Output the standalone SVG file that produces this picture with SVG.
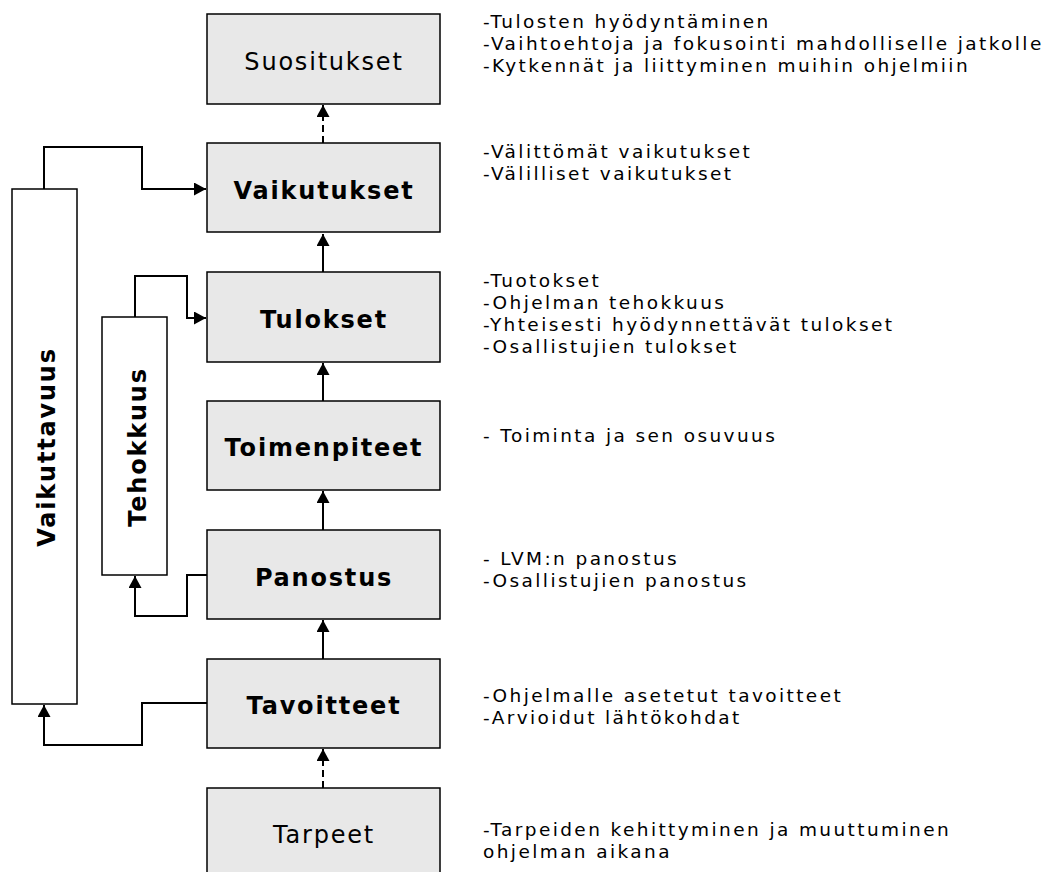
<svg xmlns="http://www.w3.org/2000/svg" width="1043" height="872" viewBox="0 0 1043 872">
<defs>
<style>
.box{fill:#e8e8e8;stroke:#000;stroke-width:1.5}
.side{fill:#fff;stroke:#000;stroke-width:1.5}
.lbl{font-family:"DejaVu Sans",Verdana,sans-serif;font-size:24px;letter-spacing:1.8px;text-anchor:middle;fill:#000}
.b{font-weight:bold}
.note{font-family:"DejaVu Sans",Verdana,sans-serif;font-size:18.5px;letter-spacing:2.4px;fill:#000}
.c{fill:none;stroke:#000;stroke-width:2}
.d{stroke-dasharray:7,4}
</style>
<marker id="ah" markerUnits="userSpaceOnUse" markerWidth="13" markerHeight="13" refX="12" refY="6.5" orient="auto" viewBox="0 0 13 13">
<path d="M0,0 L12,6.5 L0,13 z" fill="#000"/>
</marker>
</defs>
<rect width="1043" height="872" fill="#fff"/>

<g id="connectors">
<path class="c d" d="M323,143 V105" marker-end="url(#ah)"/>
<path class="c" d="M323,272 V234" marker-end="url(#ah)"/>
<path class="c" d="M323,401 V363" marker-end="url(#ah)"/>
<path class="c" d="M323,530 V491" marker-end="url(#ah)"/>
<path class="c" d="M323,659 V620" marker-end="url(#ah)"/>
<path class="c d" d="M323,788 V749" marker-end="url(#ah)"/>
<path class="c" d="M44,189 V147 H142 V189 H206" marker-end="url(#ah)"/>
<path class="c" d="M135,317 V276 H187 V318 H206" marker-end="url(#ah)"/>
<path class="c" d="M207,575 H187 V616 H135 V576" marker-end="url(#ah)"/>
<path class="c" d="M207,703 H142 V745 H44 V705" marker-end="url(#ah)"/>
</g>

<g id="vaikuttavuus">
<rect class="side" x="12" y="189" width="65" height="515"/>
<text class="lbl b" transform="translate(55,447) rotate(-90)">Vaikuttavuus</text>
</g>
<g id="tehokkuus">
<rect class="side" x="102" y="317" width="65" height="258"/>
<text class="lbl b" transform="translate(146,447) rotate(-90)">Tehokkuus</text>
</g>

<g id="suositukset">
<rect class="box" x="207" y="14" width="233" height="90"/>
<text class="lbl" x="324" y="70">Suositukset</text>
</g>
<g id="vaikutukset">
<rect class="box" x="207" y="143" width="233" height="89"/>
<text class="lbl b" x="324" y="199">Vaikutukset</text>
</g>
<g id="tulokset">
<rect class="box" x="207" y="272" width="233" height="90"/>
<text class="lbl b" x="324" y="328">Tulokset</text>
</g>
<g id="toimenpiteet">
<rect class="box" x="207" y="401" width="233" height="89"/>
<text class="lbl b" x="324" y="456">Toimenpiteet</text>
</g>
<g id="panostus">
<rect class="box" x="207" y="530" width="233" height="89"/>
<text class="lbl b" x="324" y="586">Panostus</text>
</g>
<g id="tavoitteet">
<rect class="box" x="207" y="659" width="233" height="89"/>
<text class="lbl b" x="324" y="714">Tavoitteet</text>
</g>
<g id="tarpeet">
<rect class="box" x="207" y="788" width="233" height="100"/>
<text class="lbl" x="324" y="843">Tarpeet</text>
</g>

<g id="notes">
<text class="note" x="483" y="28">-Tulosten hyödyntäminen</text>
<text class="note" x="483" y="50">-Vaihtoehtoja ja fokusointi mahdolliselle jatkolle</text>
<text class="note" x="483" y="72">-Kytkennät ja liittyminen muihin ohjelmiin</text>
<text class="note" x="483" y="158">-Välittömät vaikutukset</text>
<text class="note" x="483" y="180">-Välilliset vaikutukset</text>
<text class="note" x="483" y="287">-Tuotokset</text>
<text class="note" x="483" y="309">-Ohjelman tehokkuus</text>
<text class="note" x="483" y="331">-Yhteisesti hyödynnettävät tulokset</text>
<text class="note" x="483" y="353">-Osallistujien tulokset</text>
<text class="note" x="483" y="442">- Toiminta ja sen osuvuus</text>
<text class="note" x="483" y="565">- LVM:n panostus</text>
<text class="note" x="483" y="587">-Osallistujien panostus</text>
<text class="note" x="483" y="702">-Ohjelmalle asetetut tavoitteet</text>
<text class="note" x="483" y="724">-Arvioidut lähtökohdat</text>
<text class="note" x="483" y="836">-Tarpeiden kehittyminen ja muuttuminen</text>
<text class="note" x="483" y="858">ohjelman aikana</text>
</g>
</svg>
